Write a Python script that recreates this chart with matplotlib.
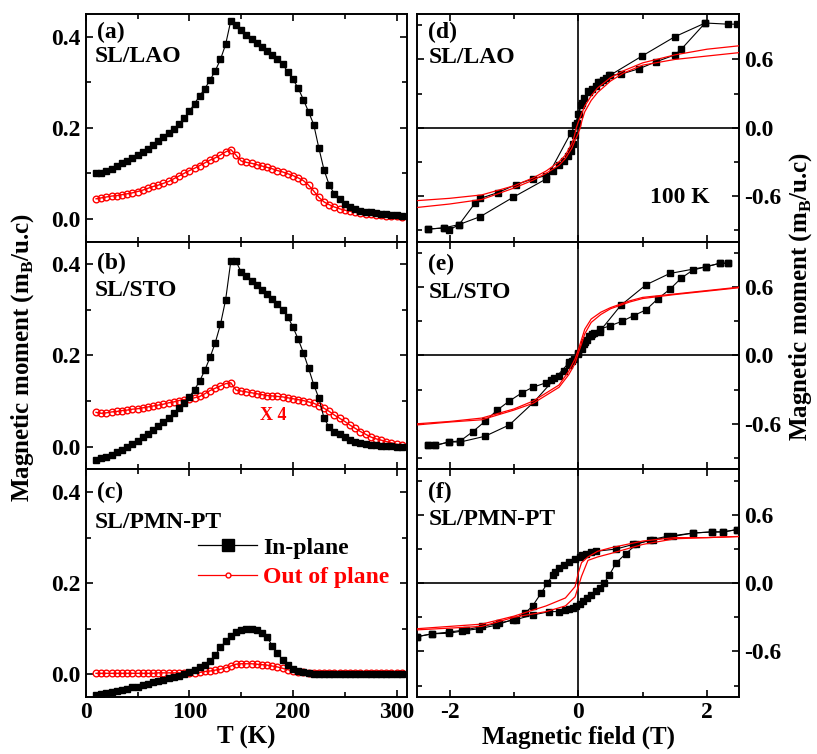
import numpy as np
import matplotlib
matplotlib.use("Agg")
import matplotlib.pyplot as plt
from matplotlib.lines import Line2D
from matplotlib.ticker import MultipleLocator

plt.rcParams["font.family"] = ["Liberation Serif", "DejaVu Serif"]
plt.rcParams["font.weight"] = "bold"
plt.rcParams["mathtext.fontset"] = "custom"
plt.rcParams["mathtext.rm"] = "Liberation Serif:bold"
plt.rcParams["mathtext.bf"] = "Liberation Serif:bold"
plt.rcParams["axes.unicode_minus"] = False

# ---- M(T) data, shared temperature grid (K) ----
T_grid = [10, 15, 20, 25, 30, 35, 40, 45, 50, 55, 60, 65, 70, 75, 80, 85, 90, 95, 100, 105,
          110, 115, 120, 125, 130, 135, 140, 145, 150, 155, 160, 165, 170, 175, 180, 185, 190, 195, 200, 205,
          210, 215, 220, 225, 230, 235, 240, 245, 250, 255, 260, 265, 270, 275, 280, 285, 290, 295, 300, 305]

lao_in = [0.101, 0.100, 0.104, 0.110, 0.117, 0.122, 0.128, 0.134, 0.140, 0.147,
          0.154, 0.162, 0.170, 0.179, 0.188, 0.198, 0.208, 0.221, 0.236, 0.253,
          0.270, 0.286, 0.305, 0.325, 0.350, 0.383,
          0.435, 0.426, 0.414, 0.404, 0.395, 0.386, 0.377, 0.369, 0.360, 0.350,
          0.339, 0.323, 0.306, 0.287, 0.262, 0.235, 0.207, 0.155, 0.107, 0.074,
          0.055, 0.043, 0.032, 0.026, 0.021, 0.018, 0.016, 0.014, 0.012, 0.011,
          0.010, 0.009, 0.008, 0.007]
lao_out = [0.044, 0.046, 0.048, 0.050, 0.051, 0.053, 0.055, 0.057, 0.060, 0.063,
           0.067, 0.071, 0.074, 0.078, 0.082, 0.088, 0.094, 0.100, 0.106, 0.111,
           0.117, 0.123, 0.129, 0.134, 0.140, 0.147,
           0.152, 0.140, 0.127, 0.124, 0.122, 0.119, 0.116, 0.113, 0.110, 0.106,
           0.103, 0.099, 0.095, 0.090, 0.084, 0.074, 0.061, 0.047, 0.037, 0.031,
           0.026, 0.022, 0.019, 0.017, 0.015, 0.013, 0.011, 0.010, 0.009, 0.008,
           0.007, 0.006, 0.006, 0.005]

sto_in = [-0.029, -0.026, -0.022, -0.018, -0.013, -0.008, -0.002, 0.005, 0.012, 0.020,
          0.028, 0.036, 0.045, 0.053, 0.063, 0.073, 0.084, 0.096, 0.109, 0.125,
          0.144, 0.168, 0.196, 0.228, 0.268, 0.322,
          0.407, 0.407, 0.383, 0.374, 0.364, 0.354, 0.344, 0.334, 0.323, 0.312,
          0.300, 0.285, 0.262, 0.236, 0.206, 0.172, 0.136, 0.106, 0.062, 0.042,
          0.033, 0.027, 0.020, 0.015, 0.011, 0.008, 0.005, 0.004, 0.003, 0.002,
          0.001, 0.001, 0.000, 0.000]
sto_out = [0.075, 0.073, 0.074, 0.076, 0.077, 0.079, 0.080, 0.082, 0.083, 0.085,
           0.087, 0.089, 0.091, 0.093, 0.096, 0.098, 0.101, 0.103, 0.105, 0.107,
           0.110, 0.116, 0.123, 0.128, 0.133, 0.138,
           0.140, 0.124, 0.122, 0.120, 0.118, 0.116, 0.114, 0.112, 0.111, 0.110,
           0.109, 0.107, 0.105, 0.103, 0.101, 0.098, 0.095, 0.090, 0.084, 0.077,
           0.069, 0.062, 0.055, 0.047, 0.040, 0.033, 0.027, 0.021, 0.017, 0.014,
           0.011, 0.008, 0.005, 0.003]

pmn_in = [-0.046, -0.044, -0.042, -0.039, -0.037, -0.034, -0.032, -0.029, -0.027, -0.024,
          -0.021, -0.018, -0.015, -0.012, -0.009, -0.006, -0.003, 0.001, 0.005, 0.010,
          0.015, 0.021, 0.029, 0.042, 0.059, 0.072,
          0.084, 0.092, 0.097, 0.099, 0.099, 0.097, 0.091, 0.081, 0.063, 0.046,
          0.032, 0.021, 0.012, 0.007, 0.004, 0.002, 0.001, 0.000, 0.000, 0.000,
          0.000, 0.000, 0.000, 0.000, 0.000, 0.000, 0.000, 0.000, 0.000, 0.000,
          0.000, 0.000, 0.000, 0.000]
pmn_out = [0.002, 0.002, 0.002, 0.002, 0.002, 0.002, 0.002, 0.002, 0.002, 0.002,
           0.002, 0.002, 0.003, 0.003, 0.003, 0.003, 0.003, 0.003, 0.003, 0.003,
           0.004, 0.006, 0.007, 0.009, 0.011, 0.014,
           0.018, 0.022, 0.023, 0.023, 0.023, 0.022, 0.021, 0.020, 0.018, 0.016,
           0.013, 0.010, 0.007, 0.005, 0.004, 0.003, 0.003, 0.003, 0.003, 0.002,
           0.002, 0.002, 0.002, 0.002, 0.002, 0.002, 0.002, 0.002, 0.002, 0.002,
           0.002, 0.002, 0.002, 0.002]

# ---- M(H) loops at 100 K ----
d_dn_H = [2.47, 2.32, 1.97, 1.50, 0.99, 0.49, 0.30, 0.15, 0.05, 0.0, -0.05, -0.12, -0.50, -1.01, -1.52, -1.85, -2.01, -2.09, -2.33]
d_dn_M = [0.91, 0.91, 0.92, 0.80, 0.63, 0.46, 0.40, 0.32, 0.22, 0.12, 0.02, -0.05, -0.45, -0.61, -0.78, -0.85, -0.90, -0.88, -0.89]
d_up_H = [-2.33, -2.09, -1.85, -1.60, -1.52, -1.25, -0.97, -0.71, -0.50, -0.40, -0.30, -0.22, -0.16, -0.12, -0.08, -0.05, -0.02,
          0.01, 0.04, 0.09, 0.17, 0.22, 0.28, 0.33, 0.38, 0.43, 0.48, 0.66, 0.95, 1.21, 1.50, 1.60, 1.97]
d_up_M = [-0.89, -0.88, -0.85, -0.66, -0.62, -0.57, -0.50, -0.45, -0.42, -0.38, -0.33, -0.29, -0.25, -0.20, -0.14, -0.06, 0.04,
          0.12, 0.20, 0.26, 0.31, 0.34, 0.37, 0.40, 0.42, 0.44, 0.46, 0.47, 0.52, 0.58, 0.64, 0.69, 0.92]
d_red1_H = [2.5, 2.0, 1.5, 1.0, 0.7, 0.5, 0.3, 0.2, 0.1, 0.05, 0.0, -0.03, -0.06, -0.1, -0.2, -0.3, -0.5, -0.7, -1.0, -1.5, -2.0, -2.5]
d_red1_M = [0.72, 0.69, 0.64, 0.57, 0.50, 0.44, 0.35, 0.28, 0.19, 0.12, 0.05, 0.0, -0.07, -0.14, -0.24, -0.30, -0.38, -0.44, -0.51, -0.59, -0.62, -0.64]
d_red2_H = [-2.5, -2.0, -1.5, -1.0, -0.7, -0.5, -0.3, -0.2, -0.1, -0.05, 0.0, 0.03, 0.06, 0.1, 0.2, 0.3, 0.5, 0.7, 1.0, 1.5, 2.0, 2.5]
d_red2_M = [-0.70, -0.67, -0.63, -0.53, -0.46, -0.40, -0.33, -0.27, -0.18, -0.11, -0.05, 0.0, 0.07, 0.14, 0.24, 0.31, 0.41, 0.48, 0.55, 0.60, 0.63, 0.66]

e_dn_H = [2.32, 2.20, 1.99, 1.42, 1.05, 0.66, 0.33, 0.20, 0.10, 0.0, -0.10, -0.14, -0.69, -1.07, -1.45, -1.83, -2.01, -2.22, -2.33]
e_dn_M = [0.81, 0.81, 0.78, 0.72, 0.62, 0.44, 0.21, 0.17, 0.12, 0.02, -0.05, -0.06, -0.41, -0.61, -0.71, -0.76, -0.76, -0.79, -0.79]
e_up_H = [-2.33, -2.22, -2.01, -1.83, -1.64, -1.45, -1.26, -1.07, -0.88, -0.71, -0.50, -0.42, -0.37, -0.30, -0.22, -0.14, -0.06, 0.0,
          0.05, 0.09, 0.13, 0.17, 0.21, 0.25, 0.33, 0.49, 0.68, 0.86, 1.05, 1.24, 1.42, 1.60, 1.78, 1.99, 2.20, 2.32]
e_up_M = [-0.79, -0.79, -0.76, -0.75, -0.67, -0.58, -0.48, -0.40, -0.33, -0.28, -0.24, -0.22, -0.20, -0.18, -0.14, -0.08, -0.035, 0.01,
          0.06, 0.10, 0.14, 0.17, 0.19, 0.20, 0.23, 0.26, 0.30, 0.35, 0.40, 0.50, 0.58, 0.68, 0.75, 0.78, 0.81, 0.81]
e_red1_H = [2.5, 2.0, 1.5, 1.0, 0.8, 0.5, 0.35, 0.2, 0.1, 0.05, 0.0, -0.05, -0.15, -0.3, -0.5, -0.7, -1.0, -1.5, -2.0, -2.5]
e_red1_M = [0.60, 0.57, 0.54, 0.51, 0.48, 0.42, 0.38, 0.32, 0.23, 0.14, 0.05, -0.03, -0.14, -0.26, -0.33, -0.40, -0.47, -0.55, -0.58, -0.60]
e_red2_H = [-2.5, -2.0, -1.5, -1.0, -0.7, -0.5, -0.3, -0.15, -0.05, 0.0, 0.05, 0.1, 0.2, 0.35, 0.5, 0.8, 1.0, 1.5, 2.0, 2.5]
e_red2_M = [-0.61, -0.585, -0.565, -0.48, -0.42, -0.35, -0.28, -0.17, -0.07, 0.02, 0.10, 0.19, 0.29, 0.36, 0.41, 0.47, 0.50, 0.535, 0.565, 0.595]

f_dn_H = [2.46, 2.25, 2.07, 1.78, 1.47, 1.16, 0.85, 0.59, 0.28, 0.20, 0.12, 0.06, 0.02, -0.05, -0.14, -0.22, -0.30, -0.36, -0.40,
          -0.48, -0.58, -0.71, -0.82, -1.02, -1.28, -1.54, -1.80, -2.01, -2.27, -2.5]
f_dn_M = [0.47, 0.45, 0.45, 0.44, 0.41, 0.38, 0.34, 0.30, 0.28, 0.275, 0.26, 0.25, 0.23, 0.21, 0.19, 0.16, 0.13, 0.10, 0.07,
          0.0, -0.09, -0.20, -0.26, -0.32, -0.37, -0.40, -0.42, -0.44, -0.445, -0.47]
f_up_H = [-2.5, -2.27, -2.01, -1.75, -1.49, -1.23, -0.97, -0.71, -0.45, -0.30, -0.20, -0.14, -0.08, -0.04, 0.02, 0.07, 0.14, 0.20,
          0.27, 0.33, 0.40, 0.48, 0.59, 0.74, 0.90, 1.11, 1.37, 1.78, 2.07, 2.25, 2.46]
f_up_M = [-0.47, -0.445, -0.43, -0.41, -0.38, -0.35, -0.32, -0.28, -0.25, -0.25, -0.24, -0.23, -0.22, -0.20, -0.18, -0.16, -0.13, -0.10,
          -0.07, -0.04, 0.0, 0.07, 0.18, 0.26, 0.34, 0.38, 0.41, 0.44, 0.45, 0.45, 0.47]
f_red1_H = [2.5, 2.0, 1.5, 1.0, 0.5, 0.3, 0.15, 0.05, 0.0, -0.05, -0.2, -0.5, -1.0, -1.5, -2.5]
f_red1_M = [0.41, 0.40, 0.40, 0.37, 0.31, 0.28, 0.23, 0.18, 0.09, -0.03, -0.13, -0.20, -0.29, -0.36, -0.40]
f_red2_H = [-2.5, -1.5, -1.0, -0.5, -0.2, -0.05, 0.0, 0.05, 0.15, 0.3, 0.5, 1.0, 1.5, 2.0, 2.5]
f_red2_M = [-0.41, -0.38, -0.30, -0.25, -0.20, -0.12, -0.03, 0.06, 0.20, 0.23, 0.26, 0.34, 0.39, 0.40, 0.41]

left_sets = [(lao_in, lao_out, "(a)", "SL/LAO"),
             (sto_in, sto_out, "(b)", "SL/STO"),
             (pmn_in, pmn_out, "(c)", "SL/PMN-PT")]
right_sets = [(d_dn_H, d_dn_M, d_up_H, d_up_M, d_red1_H, d_red1_M, d_red2_H, d_red2_M, "(d)", "SL/LAO"),
              (e_dn_H, e_dn_M, e_up_H, e_up_M, e_red1_H, e_red1_M, e_red2_H, e_red2_M, "(e)", "SL/STO"),
              (f_dn_H, f_dn_M, f_up_H, f_up_M, f_red1_H, f_red1_M, f_red2_H, f_red2_M, "(f)", "SL/PMN-PT")]

# --- style ---
FS = 17
RED = "#ff0000"
W, H = 817, 754
LX, LW = 85.7 / W, 321.3 / W
RX, RW = 417.3 / W, 322.0 / W
PH = 227.7 / H
BOT = 1 - 697 / H

fig = plt.figure(figsize=(8.17, 7.54), dpi=100)


def style_axes(ax):
    for s in ax.spines.values():
        s.set_linewidth(1.4)
    ax.tick_params(which="both", direction="in", top=True, right=True, left=True, bottom=True,
                   width=1.2, labelsize=FS)
    ax.tick_params(which="major", length=5)
    ax.tick_params(which="minor", length=3.5)


label_y = [(0.92, 0.815), (0.904, 0.786), (0.899, 0.765)]

for i, (m_in, m_out, tag, name) in enumerate(left_sets):
    ax = fig.add_axes([LX, BOT + (2 - i) * PH, LW, PH])
    ax.plot(T_grid, m_out, color=RED, lw=1.0, marker="o", ms=4.8, mfc="none", mec=RED, mew=1.0, zorder=2)
    ax.plot(T_grid, m_in, color="black", lw=0.8, marker="s", ms=4.1, mfc="black", mec="black", zorder=3)
    ax.set_xlim(0, 310)
    ax.set_ylim(-0.05, 0.45)
    ax.xaxis.set_major_locator(MultipleLocator(100))
    ax.xaxis.set_minor_locator(MultipleLocator(50))
    ax.yaxis.set_major_locator(MultipleLocator(0.2))
    ax.yaxis.set_minor_locator(MultipleLocator(0.1))
    ax.yaxis.set_major_formatter(plt.FormatStrFormatter("%.1f"))
    style_axes(ax)
    if i < 2:
        ax.tick_params(labelbottom=False)
    else:
        ax.set_xlabel("T (K)", fontsize=18, fontweight="bold", labelpad=2)
    ax.text(0.035, label_y[i][0], tag, transform=ax.transAxes, fontsize=FS, va="center", ha="left")
    ax.text(0.029, label_y[i][1], name, transform=ax.transAxes, fontsize=FS, va="center", ha="left")
    if i == 1:
        ax.text(168, 0.068, "X 4", color=RED, fontsize=13, va="center", ha="left")
    if i == 2:
        handles = [Line2D([], [], color="black", lw=0.9, marker="s", ms=8),
                   Line2D([], [], color=RED, lw=0.9, marker="o", ms=3.5, mfc="white", mec=RED)]
        leg = ax.legend(handles, ["In-plane", "Out of plane"], loc="center left",
                        bbox_to_anchor=(0.35, 0.59), frameon=False, fontsize=FS,
                        handlelength=2.5, handletextpad=0.25, labelspacing=0.35,
                        borderpad=0, borderaxespad=0)
        leg.get_texts()[0].set_color("black")
        leg.get_texts()[1].set_color(RED)

rlabel_y = [(0.92, 0.81), (0.90, 0.777), (0.899, 0.78)]

for i, (dh, dm, uh, um, r1h, r1m, r2h, r2m, tag, name) in enumerate(right_sets):
    ax = fig.add_axes([RX, BOT + (2 - i) * PH, RW, PH])
    ax.axhline(0, color="black", lw=1.2, zorder=1)
    ax.axvline(0, color="black", lw=1.2, zorder=1)
    ax.plot(dh, dm, color="black", lw=0.8, marker="s", ms=4.0, zorder=2)
    ax.plot(uh, um, color="black", lw=0.8, marker="s", ms=4.0, zorder=2)
    ax.plot(r1h, r1m, color=RED, lw=0.9, zorder=3)
    ax.plot(r2h, r2m, color=RED, lw=0.9, zorder=3)
    ax.set_xlim(-2.5, 2.5)
    ax.set_ylim(-1.0, 1.0)
    ax.xaxis.set_major_locator(MultipleLocator(2))
    ax.xaxis.set_minor_locator(MultipleLocator(1))
    ax.yaxis.set_major_locator(MultipleLocator(0.6))
    ax.yaxis.set_minor_locator(MultipleLocator(0.3))
    ax.yaxis.set_major_formatter(plt.FormatStrFormatter("%.1f"))
    style_axes(ax)
    ax.tick_params(labelleft=False, labelright=True)
    if i < 2:
        ax.tick_params(labelbottom=False)
    else:
        ax.set_xlabel("Magnetic field (T)", fontsize=18, fontweight="bold", labelpad=2)
    ax.text(0.034, rlabel_y[i][0], tag, transform=ax.transAxes, fontsize=FS, va="center", ha="left")
    ax.text(0.034, rlabel_y[i][1], name, transform=ax.transAxes, fontsize=FS, va="center", ha="left")
    if i == 0:
        ax.text(0.723, 0.194, "100 K", transform=ax.transAxes, fontsize=FS, va="center", ha="left")

ylab = r"Magnetic moment (m$_\mathrm{B}$/u.c)"
fig.text(23 / W, 1 - 357 / H, ylab, rotation=90, fontsize=18, ha="center", va="center")
fig.text(801 / W, 1 - 296 / H, ylab, rotation=90, fontsize=18, ha="center", va="center")

fig.savefig("out.png", dpi=100)
